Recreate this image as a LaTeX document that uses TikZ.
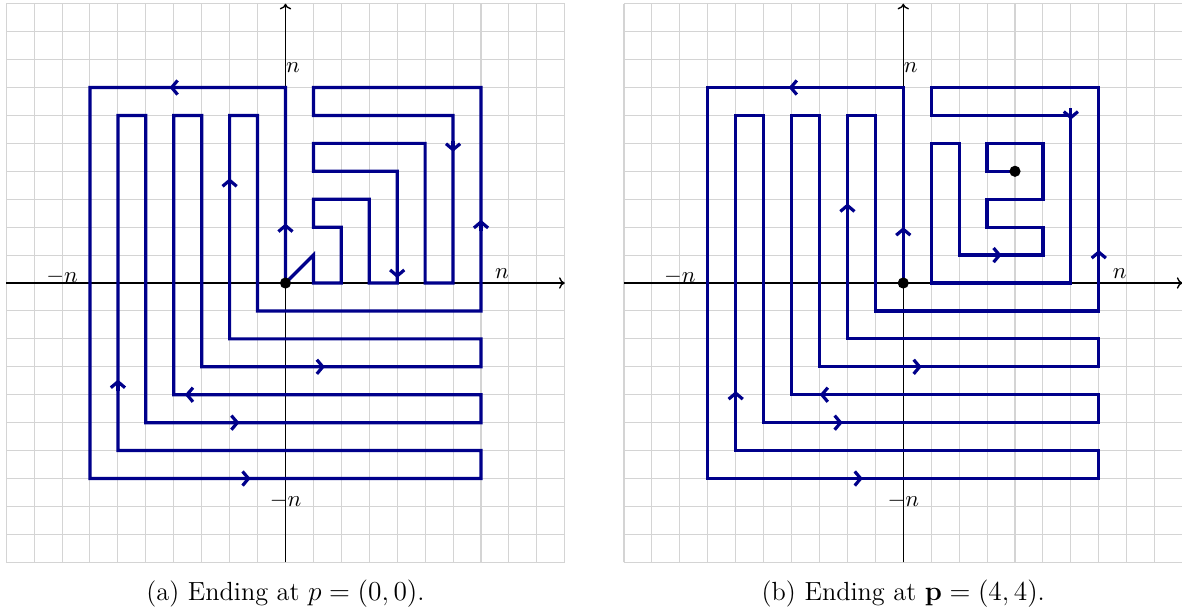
\documentclass[tikz,border=0pt]{standalone}
\usepackage{amsmath, amssymb, bm}
\usetikzlibrary{arrows.meta}
\definecolor{walkblue}{RGB}{0,0,139}
\tikzset{
  gridline/.style={draw=black!17, line width=0.45pt, step=1},
  axisline/.style={draw=black, line width=0.6pt, -{To[length=2.5pt,width=5pt]}},
  walk/.style={draw=walkblue, line width=1.4pt, line join=miter},
  walktip/.style={walk, -{Straight Barb[length=2.6pt,width=6.2pt]}},
  endpt/.style={fill=black},
  subcap/.style={font=\fontsize{11.5pt}{14pt}\selectfont},
}
\begin{document}
\begin{tikzpicture}[x=0.43cm, y=0.43cm]
        \useasboundingbox (-10.222,-11.85) rectangle (32.10,10.133);
        % Grid, axes and axis labels (both panels)
        \foreach \sx/\tag in {0/a,22.12/b}{
            \begin{scope}[shift={(\sx,0)}]
                \draw[gridline] (-10,-10) grid (10,10);
                \draw[axisline] (-10,0) -- (10,0);
                \draw[axisline] (0,-10) -- (0,10);
                \node (ntop\tag) at (0.27,7.72) {$n$};
                \node (nleft\tag) at (-8,0.21) {$-n$};
                \node (nright\tag) at (7.75,0.32) {$n$};
                \node (nbottom\tag) at (0,-7.8) {$-n$};
            \end{scope}
        }
        % (a) Walk that comes back to the origin
        \draw[walk] (0,0) -- (0,7) -- (-7,7) -- (-7,-7) -- (7,-7) -- (7,-6) -- (-6,-6) -- (-6,6)
            -- (-5,6) -- (-5,-5) -- (7,-5) -- (7,-4) -- (-4,-4) -- (-4,6) -- (-3,6) -- (-3,-3)
            -- (7,-3) -- (7,-2) -- (-2,-2) -- (-2,6) -- (-1,6) -- (-1,-1) -- (7,-1) -- (7,7)
            -- (1,7) -- (1,6) -- (6,6) -- (6,0) -- (5,0) -- (5,5) -- (1,5) -- (1,4) -- (4,4)
            -- (4,0) -- (3,0) -- (3,3) -- (1,3) -- (1,2) -- (2,2) -- (2,0) -- (1,0) -- (1,1) -- cycle;
        \foreach \x/\y/\d in {0/2.13/90, -4.15/7/180, -1.25/-7/0, -6/-3.46/90, -1.65/-5/0, -3.6/-4/180,
                              1.41/-3/0, -2/3.75/90, 7/2.26/90, 6/4.7/-90, 4/0.18/-90}
            \draw[walktip] (\x,\y) ++(\d+180:0.4) -- ++(\d:0.4);
        \fill[endpt] (0,0) circle (0.2);
        \node[subcap] (capa) at (0,-11.13) {(a) Ending at $p=(0,0)$.};
        % (b) Walk that stops at (4,4)
        \begin{scope}[shift={(22.12,0)}]
            \draw[walk] (0,0) -- (0,7) -- (-7,7) -- (-7,-7) -- (7,-7) -- (7,-6) -- (-6,-6) -- (-6,6)
                -- (-5,6) -- (-5,-5) -- (7,-5) -- (7,-4) -- (-4,-4) -- (-4,6) -- (-3,6) -- (-3,-3)
                -- (7,-3) -- (7,-2) -- (-2,-2) -- (-2,6) -- (-1,6) -- (-1,-1) -- (7,-1) -- (7,7)
                -- (1,7) -- (1,6) -- (6,6) -- (6,0) -- (1,0) -- (1,5) -- (2,5) -- (2,1) -- (5,1)
                -- (5,2) -- (3,2) -- (3,3) -- (5,3) -- (5,5) -- (3,5) -- (3,4) -- (4,4);
            \foreach \x/\y/\d in {0/2.0/90, -4.1/7/180, -1.45/-7/0, -6/-3.87/90, -2.17/-5/0, -2.99/-4/180,
                                  0.66/-3/0, -2/2.85/90, 7/1.18/90, 6/5.85/-90, 3.52/1/0}
                \draw[walktip] (\x,\y) ++(\d+180:0.4) -- ++(\d:0.4);
            \fill[endpt] (0,0) circle (0.2);
            \fill[endpt] (4,4) circle (0.2);
            \node[subcap] (capb) at (0,-11.13) {(b) Ending at $\mathbf{p}=(4,4)$.};
        \end{scope}
    \end{tikzpicture}
\end{document}
